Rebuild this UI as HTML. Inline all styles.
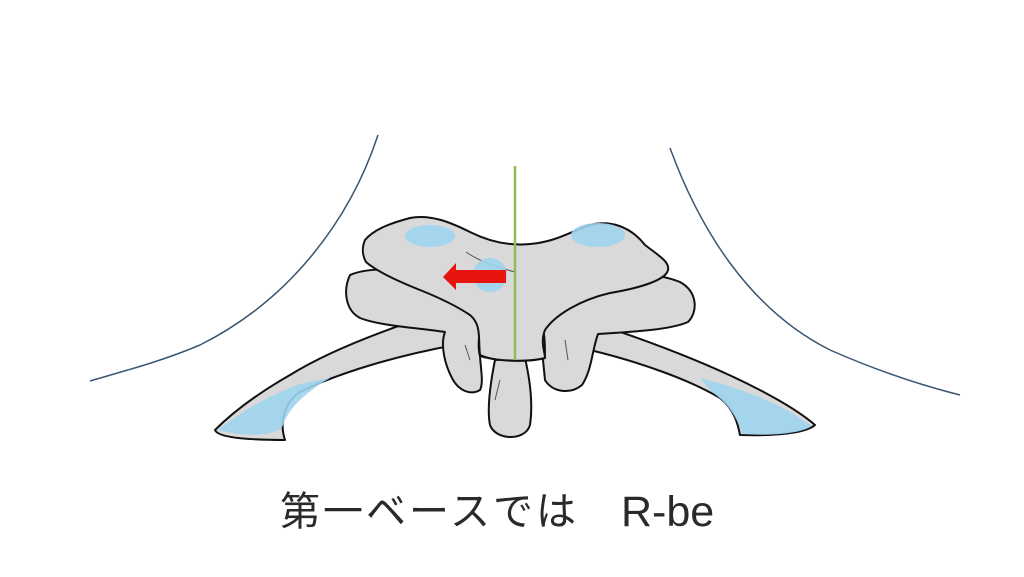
<!DOCTYPE html>
<html><head><meta charset="utf-8"><style>
html,body{margin:0;padding:0;background:#fff;width:1024px;height:577px;overflow:hidden}
svg{position:absolute;left:0;top:0}
.t{position:absolute;top:488px;font-family:"Liberation Sans","Noto Sans CJK JP",sans-serif;font-size:40px;color:#2a2a2a;white-space:nowrap;line-height:48px}
</style></head><body>
<svg width="1024" height="577" viewBox="0 0 1024 577">
<g fill="none" stroke="#3b5670" stroke-width="1.5">
<path d="M378,135 C350,220 290,300 200,345 C160,362 120,372 90,381"/>
<path d="M670,148 C700,230 750,310 830,350 C880,372 920,385 960,395"/>
</g>
<g fill="#d9d9d9" stroke="#111" stroke-width="2" stroke-linejoin="round">
<!-- legs -->
<path d="M440,312 C390,328 330,350 290,375 C255,395 230,415 215,430 C218,438 250,440 285,440 C280,425 282,405 300,392 C340,372 400,355 455,345 Z"/>
<path d="M585,320 C640,338 700,360 750,385 C780,400 800,412 815,425 C805,434 770,436 740,435 C738,425 735,410 720,398 C690,380 640,362 590,350 Z"/>
<!-- spinous -->
<path d="M495,360 C490,385 487,410 490,425 C495,440 525,442 530,425 C533,405 530,380 525,358 Z"/>
<!-- lower wings -->
<path d="M350,275 C370,266 420,268 460,280 L480,300 L480,340 C478,360 485,380 480,390 C470,396 458,390 452,378 C445,365 440,345 445,332 C420,328 380,326 360,318 C345,310 343,290 350,275 Z"/>
<path d="M560,290 C600,272 650,270 680,282 C698,292 698,312 688,322 C670,330 630,332 598,334 C592,350 592,370 582,385 C570,395 552,392 545,380 L540,330 Z"/>
<!-- central body -->
<path d="M482,320 C478,335 478,350 480,356 C500,362 530,362 545,358 C545,345 545,330 540,320 Z"/>
<!-- upper wing -->
<path d="M365,240 C375,228 395,222 410,218 C430,214 450,222 470,232 C490,242 510,246 530,244 C555,242 570,232 590,225 C610,220 630,226 645,245 C658,255 670,262 668,270 C666,280 640,288 610,293 C580,300 555,315 545,330 C540,342 545,352 545,358 C530,362 495,362 480,355 C478,340 482,325 470,315 C455,305 440,298 420,290 C395,280 375,270 366,262 C362,255 362,247 365,240 Z"/>
</g>
<g fill="none" stroke="#555" stroke-width="1">
<path d="M466,252 C480,262 500,268 515,272"/>
<path d="M465,345 L470,360"/>
<path d="M565,340 L568,360"/>
<path d="M500,380 L495,400"/>
</g>
<g fill="#9fd3ee" opacity="0.9">
<ellipse cx="430" cy="236" rx="25" ry="11"/>
<ellipse cx="598" cy="235" rx="27" ry="12"/>
<circle cx="490" cy="275" r="17"/>
<path d="M218,430 C240,412 270,395 300,384 L330,378 C310,390 290,405 283,425 C280,435 250,438 218,430 Z"/>
<path d="M700,378 C730,385 770,400 790,412 L812,426 C800,434 770,436 742,434 C738,420 730,405 712,392 Z"/>
</g>
<line x1="515" y1="166" x2="515" y2="360" stroke="#8cc152" stroke-width="2.5"/>
<path d="M506,270 L456,270 L456,263 L443,277 L456,290 L456,283 L506,283 Z" fill="#e8150f"/>
</svg>
<div class="t" style="left:280px;letter-spacing:3px">第一ベースでは</div>
<div class="t" style="left:621px;font-size:43px">R-be</div>
</body></html>
